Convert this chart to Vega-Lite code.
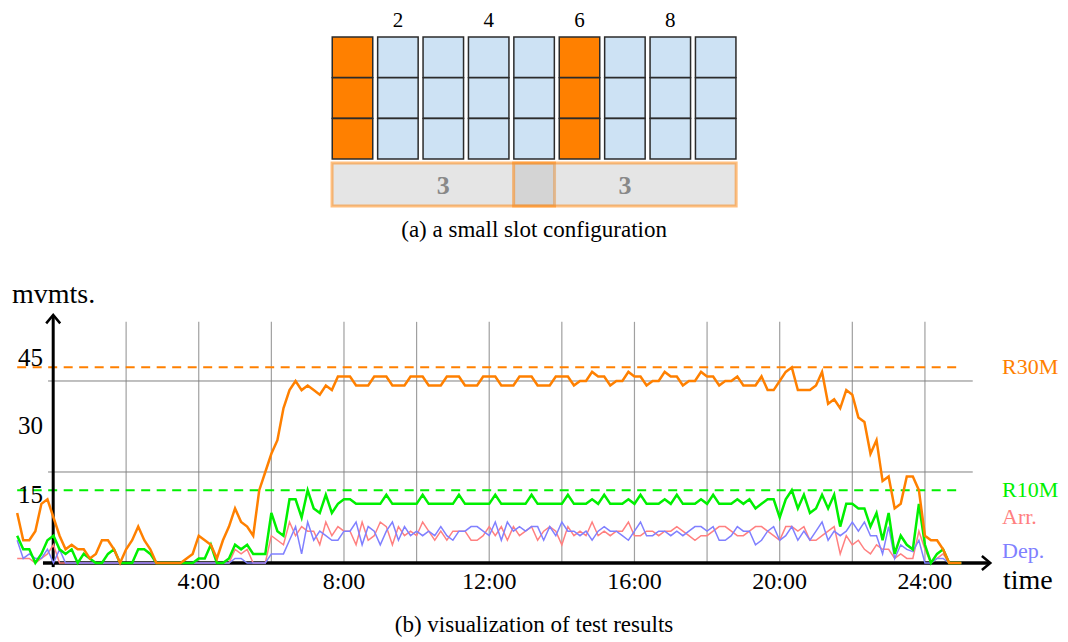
{
"$schema": "https://vega.github.io/schema/vega-lite/v6.json",
"padding": 0,
"spacing": 0,
"bounds": "flush",
"config": {"view": {"stroke": null}, "font": "Liberation Serif", "concat": {"spacing": 0}},
"datasets": {
"slots": [
{"slot":1,"row":1,"state":"reserved"},{"slot":1,"row":2,"state":"reserved"},{"slot":1,"row":3,"state":"reserved"},
{"slot":2,"row":1,"state":"free"},{"slot":2,"row":2,"state":"free"},{"slot":2,"row":3,"state":"free"},
{"slot":3,"row":1,"state":"free"},{"slot":3,"row":2,"state":"free"},{"slot":3,"row":3,"state":"free"},
{"slot":4,"row":1,"state":"free"},{"slot":4,"row":2,"state":"free"},{"slot":4,"row":3,"state":"free"},
{"slot":5,"row":1,"state":"free"},{"slot":5,"row":2,"state":"free"},{"slot":5,"row":3,"state":"free"},
{"slot":6,"row":1,"state":"reserved"},{"slot":6,"row":2,"state":"reserved"},{"slot":6,"row":3,"state":"reserved"},
{"slot":7,"row":1,"state":"free"},{"slot":7,"row":2,"state":"free"},{"slot":7,"row":3,"state":"free"},
{"slot":8,"row":1,"state":"free"},{"slot":8,"row":2,"state":"free"},{"slot":8,"row":3,"state":"free"},
{"slot":9,"row":1,"state":"free"},{"slot":9,"row":2,"state":"free"},{"slot":9,"row":3,"state":"free"}
],
"slotNumbers": [{"slot":2},{"slot":4},{"slot":6},{"slot":8}],
"groups": [{"from":1,"to":5,"mid":3,"n":3},{"from":5,"to":9,"mid":7,"n":3}],
"grid": [{"min":120},{"min":240},{"min":360},{"min":480},{"min":600},{"min":720},{"min":840},{"min":960},{"min":1080},{"min":1200},{"min":1320},{"min":1440}],
"ticks": [{"min":0,"label":"0:00"},{"min":240,"label":"4:00"},{"min":480,"label":"8:00"},{"min":720,"label":"12:00"},{"min":960,"label":"16:00"},{"min":1200,"label":"20:00"},{"min":1440,"label":"24:00"}],
"guides": [{"value":20},{"value":40}],
"limits": [{"series":"R30M","value":43},{"series":"R10M","value":16}],
"ylabels": [{"value":45},{"value":30},{"value":15}],
"seriesLabels": [{"series":"R30M","label":"R30M","value":43},{"series":"R10M","label":"R10M","value":16},{"series":"Arr","label":"Arr.","value":10.1},{"series":"Dep","label":"Dep.","value":2.7}],
"main": [
{"min":-60,"R30M":11,"R10M":6,"Arr":1,"Dep":5},
{"min":-50,"R30M":5,"R10M":3,"Arr":1,"Dep":1},
{"min":-40,"R30M":5,"R10M":3,"Arr":1,"Dep":2},
{"min":-30,"R30M":7,"R10M":0,"Arr":0,"Dep":1},
{"min":-20,"R30M":13,"R10M":2,"Arr":1,"Dep":1},
{"min":-10,"R30M":14,"R10M":5,"Arr":2,"Dep":3},
{"min":0,"R30M":10,"R10M":6,"Arr":4,"Dep":0},
{"min":10,"R30M":6,"R10M":3,"Arr":0,"Dep":3},
{"min":20,"R30M":3,"R10M":2,"Arr":0,"Dep":0},
{"min":30,"R30M":4,"R10M":3,"Arr":0,"Dep":0},
{"min":40,"R30M":3,"R10M":0,"Arr":0,"Dep":0},
{"min":50,"R30M":3,"R10M":2,"Arr":0,"Dep":0},
{"min":60,"R30M":1,"R10M":1,"Arr":0,"Dep":0},
{"min":70,"R30M":2,"R10M":0,"Arr":0,"Dep":0},
{"min":80,"R30M":5,"R10M":0,"Arr":0,"Dep":0},
{"min":90,"R30M":5,"R10M":2,"Arr":0,"Dep":0},
{"min":100,"R30M":3,"R10M":3,"Arr":0,"Dep":0},
{"min":110,"R30M":0,"R10M":0,"Arr":0,"Dep":0},
{"min":120,"R30M":3,"R10M":0,"Arr":0,"Dep":0},
{"min":130,"R30M":5,"R10M":0,"Arr":0,"Dep":0},
{"min":140,"R30M":8,"R10M":3,"Arr":0,"Dep":0},
{"min":150,"R30M":5,"R10M":3,"Arr":0,"Dep":0},
{"min":160,"R30M":3,"R10M":2,"Arr":0,"Dep":0},
{"min":170,"R30M":0,"R10M":0,"Arr":0,"Dep":0},
{"min":180,"R30M":0,"R10M":0,"Arr":0,"Dep":0},
{"min":190,"R30M":0,"R10M":0,"Arr":0,"Dep":0},
{"min":200,"R30M":0,"R10M":0,"Arr":0,"Dep":0},
{"min":210,"R30M":0,"R10M":0,"Arr":0,"Dep":0},
{"min":220,"R30M":1,"R10M":0,"Arr":0,"Dep":0},
{"min":230,"R30M":2,"R10M":0,"Arr":0,"Dep":0},
{"min":240,"R30M":6,"R10M":1,"Arr":0,"Dep":0},
{"min":250,"R30M":5,"R10M":1,"Arr":0,"Dep":0},
{"min":260,"R30M":4,"R10M":4,"Arr":0,"Dep":0},
{"min":270,"R30M":1,"R10M":0,"Arr":0,"Dep":0},
{"min":280,"R30M":5,"R10M":0,"Arr":0,"Dep":0},
{"min":290,"R30M":8,"R10M":1,"Arr":0,"Dep":0},
{"min":300,"R30M":12,"R10M":4,"Arr":3,"Dep":1},
{"min":310,"R30M":9,"R10M":3,"Arr":2,"Dep":1},
{"min":320,"R30M":8,"R10M":4,"Arr":3,"Dep":0},
{"min":330,"R30M":6,"R10M":2,"Arr":0,"Dep":0},
{"min":340,"R30M":16,"R10M":2,"Arr":0,"Dep":0},
{"min":350,"R30M":20,"R10M":2,"Arr":0,"Dep":0},
{"min":360,"R30M":24,"R10M":11,"Arr":6,"Dep":2},
{"min":370,"R30M":27,"R10M":7,"Arr":5,"Dep":2},
{"min":380,"R30M":34,"R10M":6,"Arr":4,"Dep":2},
{"min":390,"R30M":38,"R10M":14,"Arr":9,"Dep":5},
{"min":400,"R30M":40,"R10M":14,"Arr":6,"Dep":8},
{"min":410,"R30M":38,"R10M":10,"Arr":8,"Dep":2},
{"min":420,"R30M":39,"R10M":16,"Arr":7,"Dep":9},
{"min":430,"R30M":38,"R10M":12,"Arr":7,"Dep":5},
{"min":440,"R30M":37,"R10M":11,"Arr":4,"Dep":7},
{"min":450,"R30M":39,"R10M":15,"Arr":9,"Dep":6},
{"min":460,"R30M":38,"R10M":11,"Arr":6,"Dep":5},
{"min":470,"R30M":41,"R10M":13,"Arr":8,"Dep":5},
{"min":480,"R30M":41,"R10M":14,"Arr":7,"Dep":7},
{"min":490,"R30M":41,"R10M":14,"Arr":7,"Dep":7},
{"min":500,"R30M":39,"R10M":13,"Arr":4,"Dep":9},
{"min":510,"R30M":39,"R10M":13,"Arr":9,"Dep":4},
{"min":520,"R30M":39,"R10M":13,"Arr":5,"Dep":8},
{"min":530,"R30M":41,"R10M":13,"Arr":6,"Dep":7},
{"min":540,"R30M":41,"R10M":13,"Arr":9,"Dep":4},
{"min":550,"R30M":41,"R10M":15,"Arr":8,"Dep":7},
{"min":560,"R30M":39,"R10M":13,"Arr":4,"Dep":9},
{"min":570,"R30M":39,"R10M":13,"Arr":8,"Dep":5},
{"min":580,"R30M":39,"R10M":13,"Arr":6,"Dep":8},
{"min":590,"R30M":41,"R10M":13,"Arr":7,"Dep":6},
{"min":600,"R30M":41,"R10M":13,"Arr":6,"Dep":7},
{"min":610,"R30M":41,"R10M":15,"Arr":9,"Dep":6},
{"min":620,"R30M":39,"R10M":13,"Arr":7,"Dep":7},
{"min":630,"R30M":39,"R10M":13,"Arr":5,"Dep":6},
{"min":640,"R30M":39,"R10M":13,"Arr":7,"Dep":8},
{"min":650,"R30M":41,"R10M":13,"Arr":5,"Dep":6},
{"min":660,"R30M":41,"R10M":13,"Arr":7,"Dep":5},
{"min":670,"R30M":41,"R10M":15,"Arr":7,"Dep":7},
{"min":680,"R30M":39,"R10M":13,"Arr":7,"Dep":7},
{"min":690,"R30M":39,"R10M":13,"Arr":5,"Dep":8},
{"min":700,"R30M":39,"R10M":13,"Arr":5,"Dep":8},
{"min":710,"R30M":41,"R10M":13,"Arr":6,"Dep":7},
{"min":720,"R30M":41,"R10M":13,"Arr":8,"Dep":6},
{"min":730,"R30M":41,"R10M":15,"Arr":6,"Dep":9},
{"min":740,"R30M":39,"R10M":13,"Arr":8,"Dep":5},
{"min":750,"R30M":39,"R10M":13,"Arr":5,"Dep":9},
{"min":760,"R30M":39,"R10M":13,"Arr":8,"Dep":7},
{"min":770,"R30M":41,"R10M":13,"Arr":6,"Dep":8},
{"min":780,"R30M":41,"R10M":13,"Arr":7,"Dep":7},
{"min":790,"R30M":41,"R10M":15,"Arr":8,"Dep":8},
{"min":800,"R30M":39,"R10M":13,"Arr":5,"Dep":8},
{"min":810,"R30M":39,"R10M":13,"Arr":7,"Dep":5},
{"min":820,"R30M":39,"R10M":13,"Arr":8,"Dep":8},
{"min":830,"R30M":41,"R10M":13,"Arr":7,"Dep":6},
{"min":840,"R30M":41,"R10M":13,"Arr":4,"Dep":9},
{"min":850,"R30M":41,"R10M":15,"Arr":8,"Dep":7},
{"min":860,"R30M":39,"R10M":13,"Arr":6,"Dep":7},
{"min":870,"R30M":40,"R10M":13,"Arr":7,"Dep":6},
{"min":880,"R30M":40,"R10M":13,"Arr":6,"Dep":7},
{"min":890,"R30M":42,"R10M":14,"Arr":9,"Dep":5},
{"min":900,"R30M":41,"R10M":13,"Arr":6,"Dep":7},
{"min":910,"R30M":41,"R10M":15,"Arr":7,"Dep":8},
{"min":920,"R30M":39,"R10M":13,"Arr":6,"Dep":7},
{"min":930,"R30M":40,"R10M":13,"Arr":7,"Dep":7},
{"min":940,"R30M":40,"R10M":13,"Arr":7,"Dep":6},
{"min":950,"R30M":42,"R10M":14,"Arr":9,"Dep":5},
{"min":960,"R30M":41,"R10M":13,"Arr":6,"Dep":7},
{"min":970,"R30M":41,"R10M":15,"Arr":6,"Dep":9},
{"min":980,"R30M":39,"R10M":13,"Arr":7,"Dep":6},
{"min":990,"R30M":40,"R10M":13,"Arr":7,"Dep":6},
{"min":1000,"R30M":40,"R10M":13,"Arr":6,"Dep":7},
{"min":1010,"R30M":42,"R10M":14,"Arr":7,"Dep":7},
{"min":1020,"R30M":41,"R10M":13,"Arr":7,"Dep":6},
{"min":1030,"R30M":41,"R10M":15,"Arr":8,"Dep":7},
{"min":1040,"R30M":39,"R10M":13,"Arr":7,"Dep":6},
{"min":1050,"R30M":40,"R10M":13,"Arr":6,"Dep":7},
{"min":1060,"R30M":40,"R10M":13,"Arr":5,"Dep":8},
{"min":1070,"R30M":42,"R10M":14,"Arr":6,"Dep":8},
{"min":1080,"R30M":41,"R10M":13,"Arr":6,"Dep":7},
{"min":1090,"R30M":41,"R10M":15,"Arr":7,"Dep":8},
{"min":1100,"R30M":39,"R10M":13,"Arr":8,"Dep":5},
{"min":1110,"R30M":40,"R10M":13,"Arr":8,"Dep":5},
{"min":1120,"R30M":40,"R10M":13,"Arr":7,"Dep":6},
{"min":1130,"R30M":41,"R10M":14,"Arr":6,"Dep":8},
{"min":1140,"R30M":39,"R10M":13,"Arr":6,"Dep":7},
{"min":1150,"R30M":39,"R10M":14,"Arr":7,"Dep":7},
{"min":1160,"R30M":39,"R10M":12,"Arr":8,"Dep":4},
{"min":1170,"R30M":41,"R10M":13,"Arr":8,"Dep":5},
{"min":1180,"R30M":38,"R10M":14,"Arr":7,"Dep":7},
{"min":1190,"R30M":38,"R10M":14,"Arr":6,"Dep":8},
{"min":1200,"R30M":40,"R10M":10,"Arr":5,"Dep":5},
{"min":1210,"R30M":42,"R10M":14,"Arr":8,"Dep":6},
{"min":1220,"R30M":43,"R10M":16,"Arr":8,"Dep":8},
{"min":1230,"R30M":38,"R10M":12,"Arr":7,"Dep":5},
{"min":1240,"R30M":38,"R10M":15,"Arr":8,"Dep":7},
{"min":1250,"R30M":38,"R10M":11,"Arr":5,"Dep":5},
{"min":1260,"R30M":39,"R10M":12,"Arr":5,"Dep":7},
{"min":1270,"R30M":42,"R10M":15,"Arr":6,"Dep":9},
{"min":1280,"R30M":35,"R10M":12,"Arr":7,"Dep":5},
{"min":1290,"R30M":36,"R10M":15,"Arr":8,"Dep":7},
{"min":1300,"R30M":34,"R10M":8,"Arr":2,"Dep":6},
{"min":1310,"R30M":38,"R10M":13,"Arr":6,"Dep":7},
{"min":1320,"R30M":37,"R10M":13,"Arr":4,"Dep":9},
{"min":1330,"R30M":32,"R10M":12,"Arr":5,"Dep":7},
{"min":1340,"R30M":31,"R10M":12,"Arr":3,"Dep":9},
{"min":1350,"R30M":24,"R10M":8,"Arr":2,"Dep":6},
{"min":1360,"R30M":27,"R10M":11,"Arr":4,"Dep":6},
{"min":1370,"R30M":18,"R10M":5,"Arr":3,"Dep":2},
{"min":1380,"R30M":19,"R10M":11,"Arr":3,"Dep":8},
{"min":1390,"R30M":12,"R10M":2,"Arr":1,"Dep":1},
{"min":1400,"R30M":13,"R10M":6,"Arr":2,"Dep":4},
{"min":1410,"R30M":19,"R10M":4,"Arr":1,"Dep":3},
{"min":1420,"R30M":19,"R10M":3,"Arr":1,"Dep":2.5},
{"min":1430,"R30M":16,"R10M":13,"Arr":7,"Dep":5},
{"min":1440,"R30M":6,"R10M":4,"Arr":3,"Dep":0},
{"min":1450,"R30M":5,"R10M":0,"Arr":0,"Dep":0},
{"min":1460,"R30M":5,"R10M":2,"Arr":1,"Dep":1},
{"min":1470,"R30M":3,"R10M":3,"Arr":2,"Dep":1},
{"min":1480,"R30M":0,"R10M":0,"Arr":0,"Dep":0},
{"min":1490,"R30M":0,"R10M":0,"Arr":0,"Dep":0},
{"min":1500,"R30M":0,"R10M":0,"Arr":0,"Dep":0}
]
},
"vconcat": [
{
"width": 1068, "height": 245,
"layer": [
{"data": {"name": "groups"},
 "mark": {"type": "rect", "xOffset": -20.45, "x2Offset": 20.45, "fill": "#b4b4b4", "fillOpacity": 0.346, "stroke": "#ff8000", "strokeOpacity": 0.5, "strokeWidth": 3},
 "encoding": {
  "x": {"field": "from", "type": "quantitative", "scale": {"domain": [-6.7643, 16.7599], "nice": false, "zero": false}, "axis": null},
  "x2": {"field": "to"},
  "y": {"datum": 3.6, "type": "quantitative", "scale": {"domain": [-0.4098, 5.6148], "nice": false, "zero": false, "reverse": true}, "axis": null},
  "y2": {"datum": 4.656}
 }},
{"data": {"name": "groups"},
 "mark": {"type": "text", "fontSize": 26, "fontWeight": "bold", "color": "#888888", "baseline": "alphabetic", "align": "center"},
 "encoding": {
  "x": {"field": "mid", "type": "quantitative", "axis": null},
  "y": {"datum": 4.36, "axis": null},
  "text": {"field": "n"}
 }},
{"data": {"name": "slots"},
 "mark": {"type": "point", "shape": "square", "filled": true, "size": 1640, "stroke": "#2b2b2b", "strokeWidth": 1.5, "opacity": 1},
 "encoding": {
  "x": {"field": "slot", "type": "quantitative", "axis": null},
  "y": {"field": "row", "type": "quantitative", "axis": null},
  "fill": {"field": "state", "type": "nominal", "scale": {"domain": ["reserved", "free"], "range": ["#ff8000", "#cde2f4"]}, "legend": null}
 }},
{"data": {"name": "slotNumbers"},
 "mark": {"type": "text", "fontSize": 21, "color": "#000000", "baseline": "alphabetic", "align": "center"},
 "encoding": {
  "x": {"field": "slot", "type": "quantitative", "axis": null},
  "y": {"datum": 0.26, "axis": null},
  "text": {"field": "slot"}
 }},
{"data": {"values": [{"caption": "(a) a small slot configuration"}]},
 "mark": {"type": "text", "fontSize": 23, "color": "#000000", "baseline": "alphabetic", "align": "center"},
 "encoding": {
  "x": {"datum": 5, "axis": null},
  "y": {"datum": 5.425, "axis": null},
  "text": {"field": "caption"}
 }}
]
},
{
"width": 1068, "height": 397,
"layer": [
{"data": {"name": "grid"},
 "mark": {"type": "rule", "color": "#a0a0a0", "strokeWidth": 1.2},
 "encoding": {
  "x": {"field": "min", "type": "quantitative", "scale": {"domain": [-88.4, 1676.4], "nice": false, "zero": false}, "axis": null},
  "y": {"datum": 0, "type": "quantitative", "scale": {"domain": [-17.363, 69.89], "nice": false, "zero": false}, "axis": null},
  "y2": {"datum": 53}
 }},
{"data": {"name": "guides"},
 "mark": {"type": "rule", "color": "#808080", "strokeWidth": 1},
 "encoding": {
  "y": {"field": "value", "type": "quantitative", "axis": null},
  "x": {"datum": -9, "axis": null},
  "x2": {"datum": 1519}
 }},
{"data": {"name": "limits"},
 "mark": {"type": "rule", "strokeWidth": 2, "strokeDash": [9, 6.5]},
 "encoding": {
  "y": {"field": "value", "type": "quantitative", "axis": null},
  "x": {"datum": -60, "axis": null},
  "x2": {"datum": 1500},
  "color": {"field": "series", "type": "nominal", "scale": {"domain": ["Arr", "Dep", "R10M", "R30M"], "range": ["#ff8080", "#8080ff", "#00f000", "#ff8000"]}, "legend": null}
 }},
{"data": {"values": [{"axis": "time"}]},
 "mark": {"type": "rule", "color": "#000000", "strokeWidth": 3.5},
 "encoding": {
  "x": {"datum": -17.4, "axis": null},
  "x2": {"datum": 1546},
  "y": {"datum": 0, "axis": null}
 }},
{"data": {"values": [{"axis": "mvmts"}]},
 "mark": {"type": "rule", "color": "#000000", "strokeWidth": 3},
 "encoding": {
  "x": {"datum": -0.5, "axis": null},
  "y": {"datum": -0.9, "axis": null},
  "y2": {"datum": 54.2}
 }},
{"data": {"values": [{"axis": "time"}]},
 "mark": {"type": "point", "shape": "M-1.2,-1L0,0L-1.2,1", "filled": false, "size": 196, "stroke": "#000000", "strokeWidth": 2.5, "opacity": 1},
 "encoding": {
  "x": {"datum": 1548, "axis": null},
  "y": {"datum": 0, "axis": null}
 }},
{"data": {"values": [{"axis": "mvmts"}]},
 "mark": {"type": "point", "shape": "M-1,1.2L0,0L1,1.2", "filled": false, "size": 196, "stroke": "#000000", "strokeWidth": 2.5, "opacity": 1},
 "encoding": {
  "x": {"datum": -0.5, "axis": null},
  "y": {"datum": 54.5, "axis": null}
 }},
{"data": {"name": "main"},
 "transform": [{"fold": ["Arr", "Dep", "R10M", "R30M"], "as": ["series", "value"]}, {"filter": {"field": "series", "oneOf": ["Arr", "Dep"]}}],
 "mark": {"type": "line", "strokeWidth": 1.5},
 "encoding": {
  "x": {"field": "min", "type": "quantitative", "axis": null},
  "y": {"field": "value", "type": "quantitative", "axis": null},
  "color": {"field": "series", "type": "nominal", "legend": null}
 }},
{"data": {"name": "main"},
 "transform": [{"fold": ["Arr", "Dep", "R10M", "R30M"], "as": ["series", "value"]}, {"filter": {"field": "series", "oneOf": ["R10M", "R30M"]}}],
 "mark": {"type": "line", "strokeWidth": 2.5},
 "encoding": {
  "x": {"field": "min", "type": "quantitative", "axis": null},
  "y": {"field": "value", "type": "quantitative", "axis": null},
  "color": {"field": "series", "type": "nominal", "legend": null}
 }},
{"data": {"name": "ticks"},
 "mark": {"type": "text", "fontSize": 24, "color": "#000000", "baseline": "alphabetic", "align": "center"},
 "encoding": {
  "x": {"field": "min", "type": "quantitative", "axis": null},
  "y": {"datum": -5.8, "axis": null},
  "text": {"field": "label"}
 }},
{"data": {"name": "ylabels"},
 "mark": {"type": "text", "fontSize": 25, "color": "#000000", "baseline": "middle", "align": "right"},
 "encoding": {
  "x": {"datum": -17.4, "axis": null},
  "y": {"field": "value", "type": "quantitative", "axis": null},
  "text": {"field": "value"}
 }},
{"data": {"values": [{"title": "mvmts."}]},
 "mark": {"type": "text", "fontSize": 28, "color": "#000000", "baseline": "alphabetic", "align": "left"},
 "encoding": {
  "x": {"datum": -68.6, "axis": null},
  "y": {"datum": 57.2, "axis": null},
  "text": {"field": "title"}
 }},
{"data": {"values": [{"title": "time"}]},
 "mark": {"type": "text", "fontSize": 28, "color": "#000000", "baseline": "alphabetic", "align": "left"},
 "encoding": {
  "x": {"datum": 1569, "axis": null},
  "y": {"datum": -5.8, "axis": null},
  "text": {"field": "title"}
 }},
{"data": {"name": "seriesLabels"},
 "mark": {"type": "text", "fontSize": 22, "baseline": "middle", "align": "left"},
 "encoding": {
  "x": {"datum": 1567.4, "axis": null},
  "y": {"field": "value", "type": "quantitative", "axis": null},
  "text": {"field": "label"},
  "color": {"field": "series", "type": "nominal", "legend": null}
 }},
{"data": {"values": [{"caption": "(b) visualization of test results"}]},
 "mark": {"type": "text", "fontSize": 23, "color": "#000000", "baseline": "alphabetic", "align": "center"},
 "encoding": {
  "x": {"datum": 794, "axis": null},
  "y": {"datum": -15.2, "axis": null},
  "text": {"field": "caption"}
 }}
]
}
]
}
